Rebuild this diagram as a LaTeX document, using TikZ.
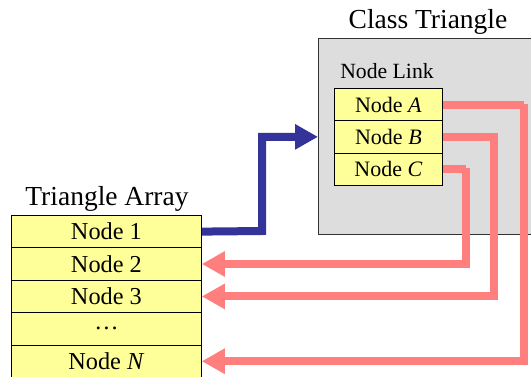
\documentclass[tikz,border=0pt]{standalone}
\usepackage{fontspec}
\setmainfont{Liberation Serif}
\usetikzlibrary{arrows.meta}
\definecolor{cyell}{HTML}{FFFF99}
\definecolor{cgray}{HTML}{DDDDDD}
\definecolor{cblue}{HTML}{333399}
\definecolor{cpink}{HTML}{FF7F7F}
\begin{document}
\begin{tikzpicture}[x=1pt,y=-1pt,
  arr/.style={draw=black,fill=cyell,line width=0.8pt,minimum width=190pt,minimum height=32.4pt,inner sep=0pt,font=\fontsize{24.3}{24}\selectfont,anchor=north west},
  lnk/.style={draw=black,fill=cyell,line width=0.8pt,minimum width=108pt,minimum height=32.3pt,inner sep=0pt,font=\fontsize{22}{22}\selectfont,anchor=north west},
  bluearrow/.style={cblue,line width=8pt,-{Triangle[length=23pt,width=24pt]}},
  pinkarrow/.style={cpink,line width=8pt,-{Triangle[length=23pt,width=24pt]}},
  title/.style={font=\fontsize{27.5}{27.5}\selectfont,inner sep=0pt,anchor=base}]
\useasboundingbox (0,0) rectangle (531,376);
% class box
\node[draw=black!80,fill=cgray,line width=0.8pt,minimum width=230pt,minimum height=196pt,inner sep=0pt,anchor=north west] (cls) at (318,38) {};
\node[title] (clst) at (428,28) {Class Triangle};
\node[font=\fontsize{21.7}{21.7}\selectfont,inner sep=0pt,anchor=base] (nlt) at (387,78) {Node Link};
\node[lnk] (na) at (334,88) {Node \textit{A}};
\node[lnk] (nb) at (334,120.3) {Node \textit{B}};
\node[lnk] (nc) at (334,152.6) {Node \textit{C}};
% array
\node[title] (art) at (107,205) {Triangle Array};
\node[arr] (n1) at (11,215) {Node 1};
\node[arr] (n2) at (11,247.4) {Node 2};
\node[arr] (n3) at (11,279.8) {Node 3};
\node[arr] (nd) at (11,312.2) {\ldots};
\node[arr] (nn) at (11,344.6) {Node \textit{N}};
% arrows
\coordinate (b1) at (262,231);
\draw[bluearrow] (n1.east) -- (b1) |- (cls.west |- nb.east);
\coordinate (pc) at (466,168);
\coordinate (pb) at (494,137);
\coordinate (pa) at (524,104);
\draw[pinkarrow] (nc.east) -| (pc) |- (n2.east);
\draw[pinkarrow] (nb.east) -| (pb) |- (n3.east);
\draw[pinkarrow] (na.east) -| (pa) |- (nn.east);
\end{tikzpicture}
\end{document}
